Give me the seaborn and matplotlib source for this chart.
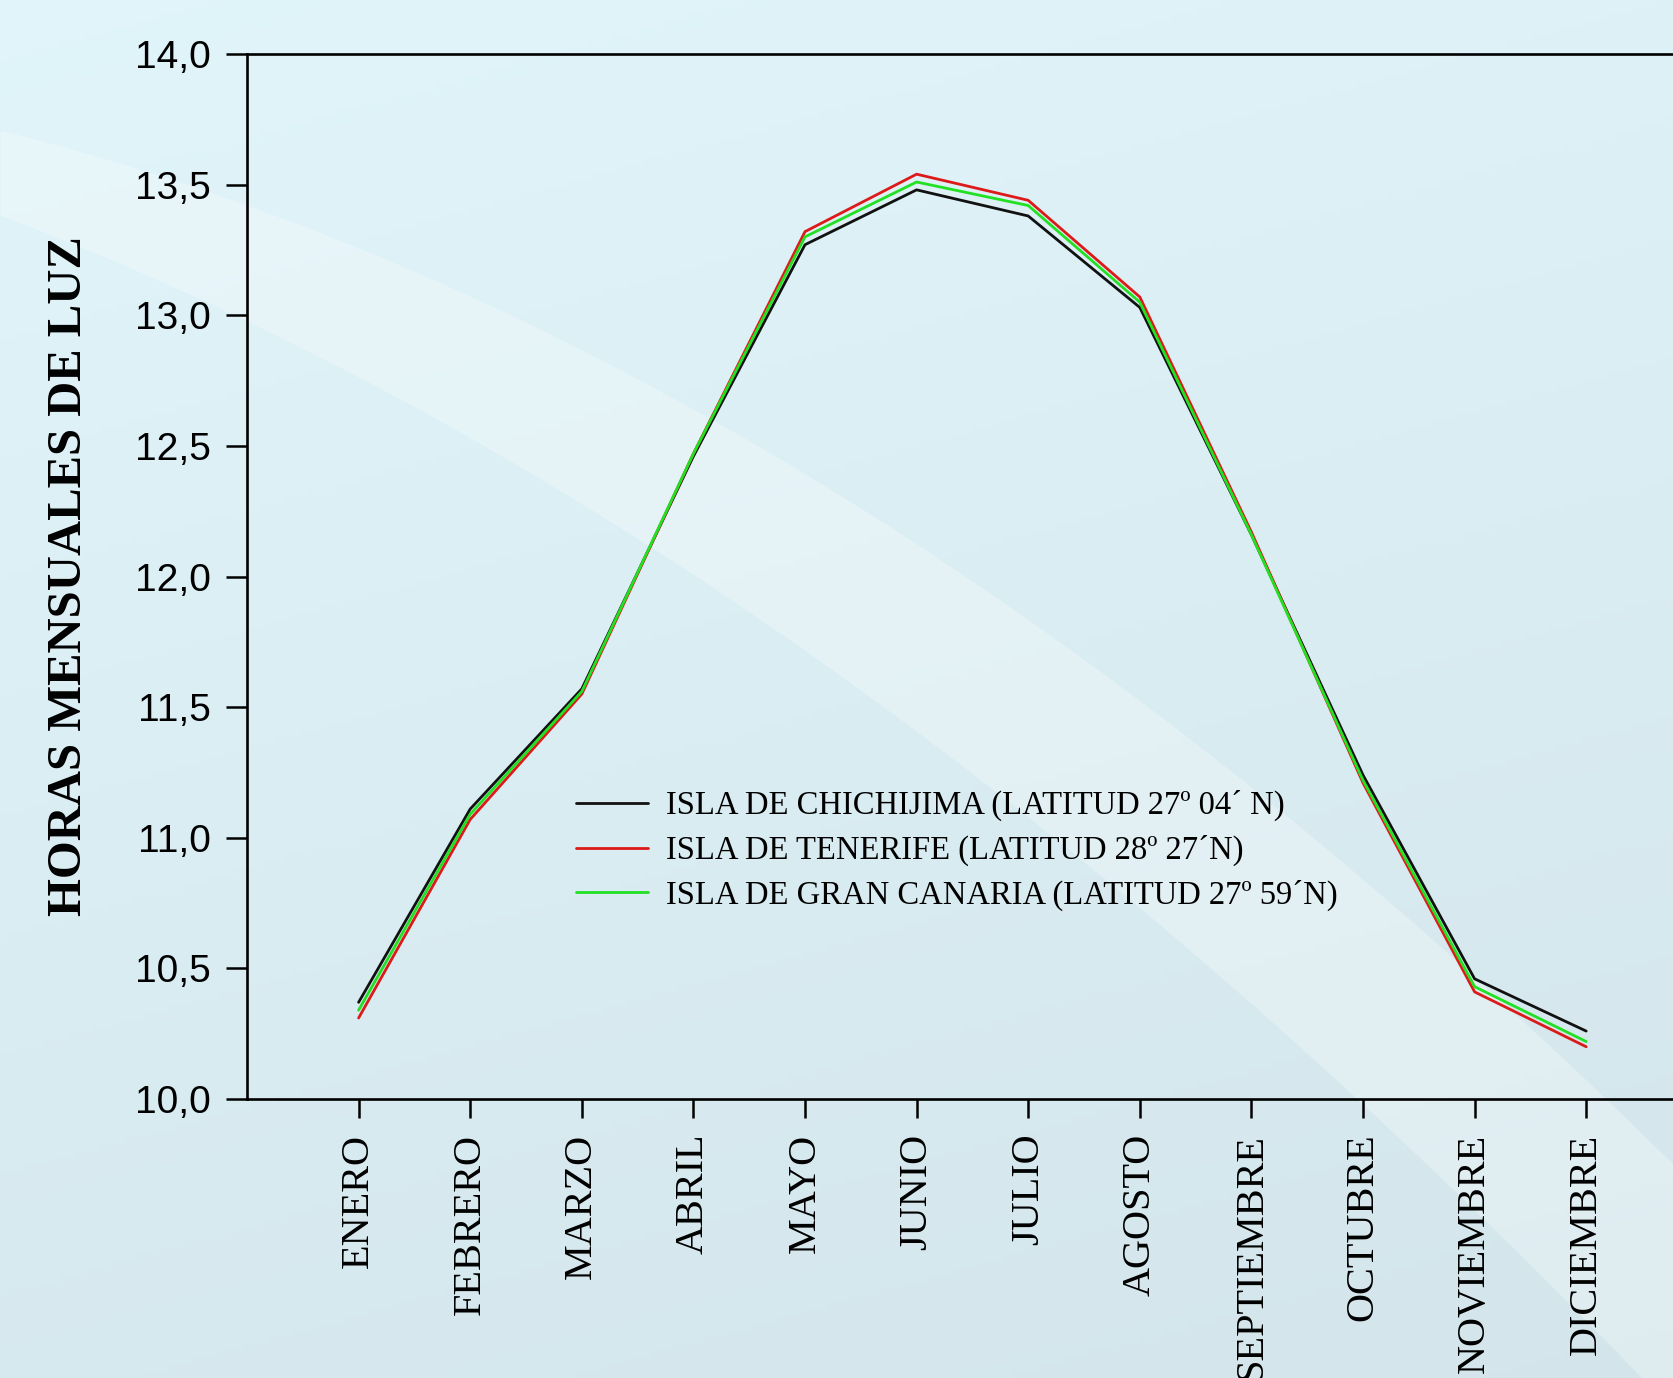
import matplotlib
matplotlib.use("Agg")
import matplotlib.pyplot as plt
import numpy as np
import pandas as pd
import seaborn as sns

meses = ["ENERO", "FEBRERO", "MARZO", "ABRIL", "MAYO", "JUNIO", "JULIO",
         "AGOSTO", "SEPTIEMBRE", "OCTUBRE", "NOVIEMBRE", "DICIEMBRE"]
chichijima = [10.37, 11.11, 11.57, 12.46, 13.27, 13.48, 13.38, 13.03, 12.16, 11.24, 10.46, 10.26]
tenerife = [10.31, 11.07, 11.55, 12.47, 13.32, 13.54, 13.44, 13.07, 12.17, 11.21, 10.41, 10.20]
gran_canaria = [10.34, 11.09, 11.56, 12.47, 13.30, 13.51, 13.42, 13.05, 12.16, 11.22, 10.43, 10.22]
series_names = ["ISLA DE CHICHIJIMA (LATITUD 27º 04´ N)",
                "ISLA DE TENERIFE (LATITUD 28º 27´N)",
                "ISLA DE GRAN CANARIA (LATITUD 27º 59´N)"]
colores = ["#111111", "#dd1a1a", "#22e022"]
y_ticks = [10.0, 10.5, 11.0, 11.5, 12.0, 12.5, 13.0, 13.5, 14.0]

df = pd.DataFrame({
    "mes": np.tile(np.arange(1, len(meses) + 1), 3),
    "horas": chichijima + tenerife + gran_canaria,
    "isla": np.repeat(series_names, len(meses)),
})

sns.set_theme(style="ticks")
plt.rcParams["font.family"] = ["Liberation Serif", "DejaVu Serif"]
for k in ["text.color", "axes.labelcolor", "xtick.color", "ytick.color", "axes.edgecolor"]:
    plt.rcParams[k] = "black"

W, H = 1674, 1378
fig = plt.figure(figsize=(W / 100, H / 100), dpi=100)

# background gradient with a light swoosh
bg = fig.add_axes([0, 0, 1, 1], zorder=-10)
gy, gx = np.mgrid[0:1:200j, 0:1:200j]
t = np.clip(0.75 * gy + 0.25 * gx, 0, 1)
top = np.array([0.88, 0.96, 0.98])
bot = np.array([0.83, 0.90, 0.92])
img = top[None, None, :] * (1 - t[..., None]) + bot[None, None, :] * t[..., None]
bg.imshow(img, extent=[0, W, H, 0], aspect="auto")
xs = np.linspace(0, W, 200)
upper = 130 + 0.25 * xs + 0.00022 * xs ** 2
lower = 215 + 0.38 * xs + 0.00020 * xs ** 2
bg.fill_between(xs, upper, lower, color="white", alpha=0.28, lw=0)
bg.set_xlim(0, W)
bg.set_ylim(H, 0)
bg.axis("off")

ax = fig.add_axes([247 / W, 1 - 1099 / H, 13 * 111.6 / W, (1099 - 54) / H])
ax.patch.set_alpha(0)
sns.lineplot(data=df, x="mes", y="horas", hue="isla", hue_order=series_names,
             palette=colores, linewidth=2.0, ax=ax, legend=True)

ax.set_xlim(0, 13)
ax.set_ylim(10, 14)
ax.set_xticks(np.arange(1, len(meses) + 1))
ax.set_xticklabels(meses, rotation=90, fontsize=29, family=["Liberation Serif"])
ax.set_yticks(y_ticks)
ax.set_yticklabels([f"{v:.1f}".replace(".", ",") for v in y_ticks],
                   fontsize=28, family=["Liberation Sans"])
ax.tick_params(axis="y", length=15, width=1.8, pad=11)
ax.tick_params(axis="x", length=14, width=1.8, pad=11)
for side in ["left", "top", "bottom"]:
    ax.spines[side].set_linewidth(1.9)
ax.spines["right"].set_visible(False)

ax.set_xlabel("")
ax.set_ylabel("HORAS MENSUALES DE LUZ", fontsize=35, fontweight="bold",
              family=["Liberation Serif"])
ax.yaxis.label.set_va("center")
ax.yaxis.set_label_coords((69 - 247) / (13 * 111.6), 0.5)

leg = ax.legend(loc="upper left", bbox_to_anchor=(576 / W, 1 - 790 / H),
                bbox_transform=fig.transFigure, frameon=False, fontsize=23.5,
                handlelength=2.2, handletextpad=0.55, labelspacing=0.42,
                borderpad=0, borderaxespad=0)
for line in leg.get_lines():
    line.set_linewidth(2.0)

fig.savefig("out.png", dpi=100)
